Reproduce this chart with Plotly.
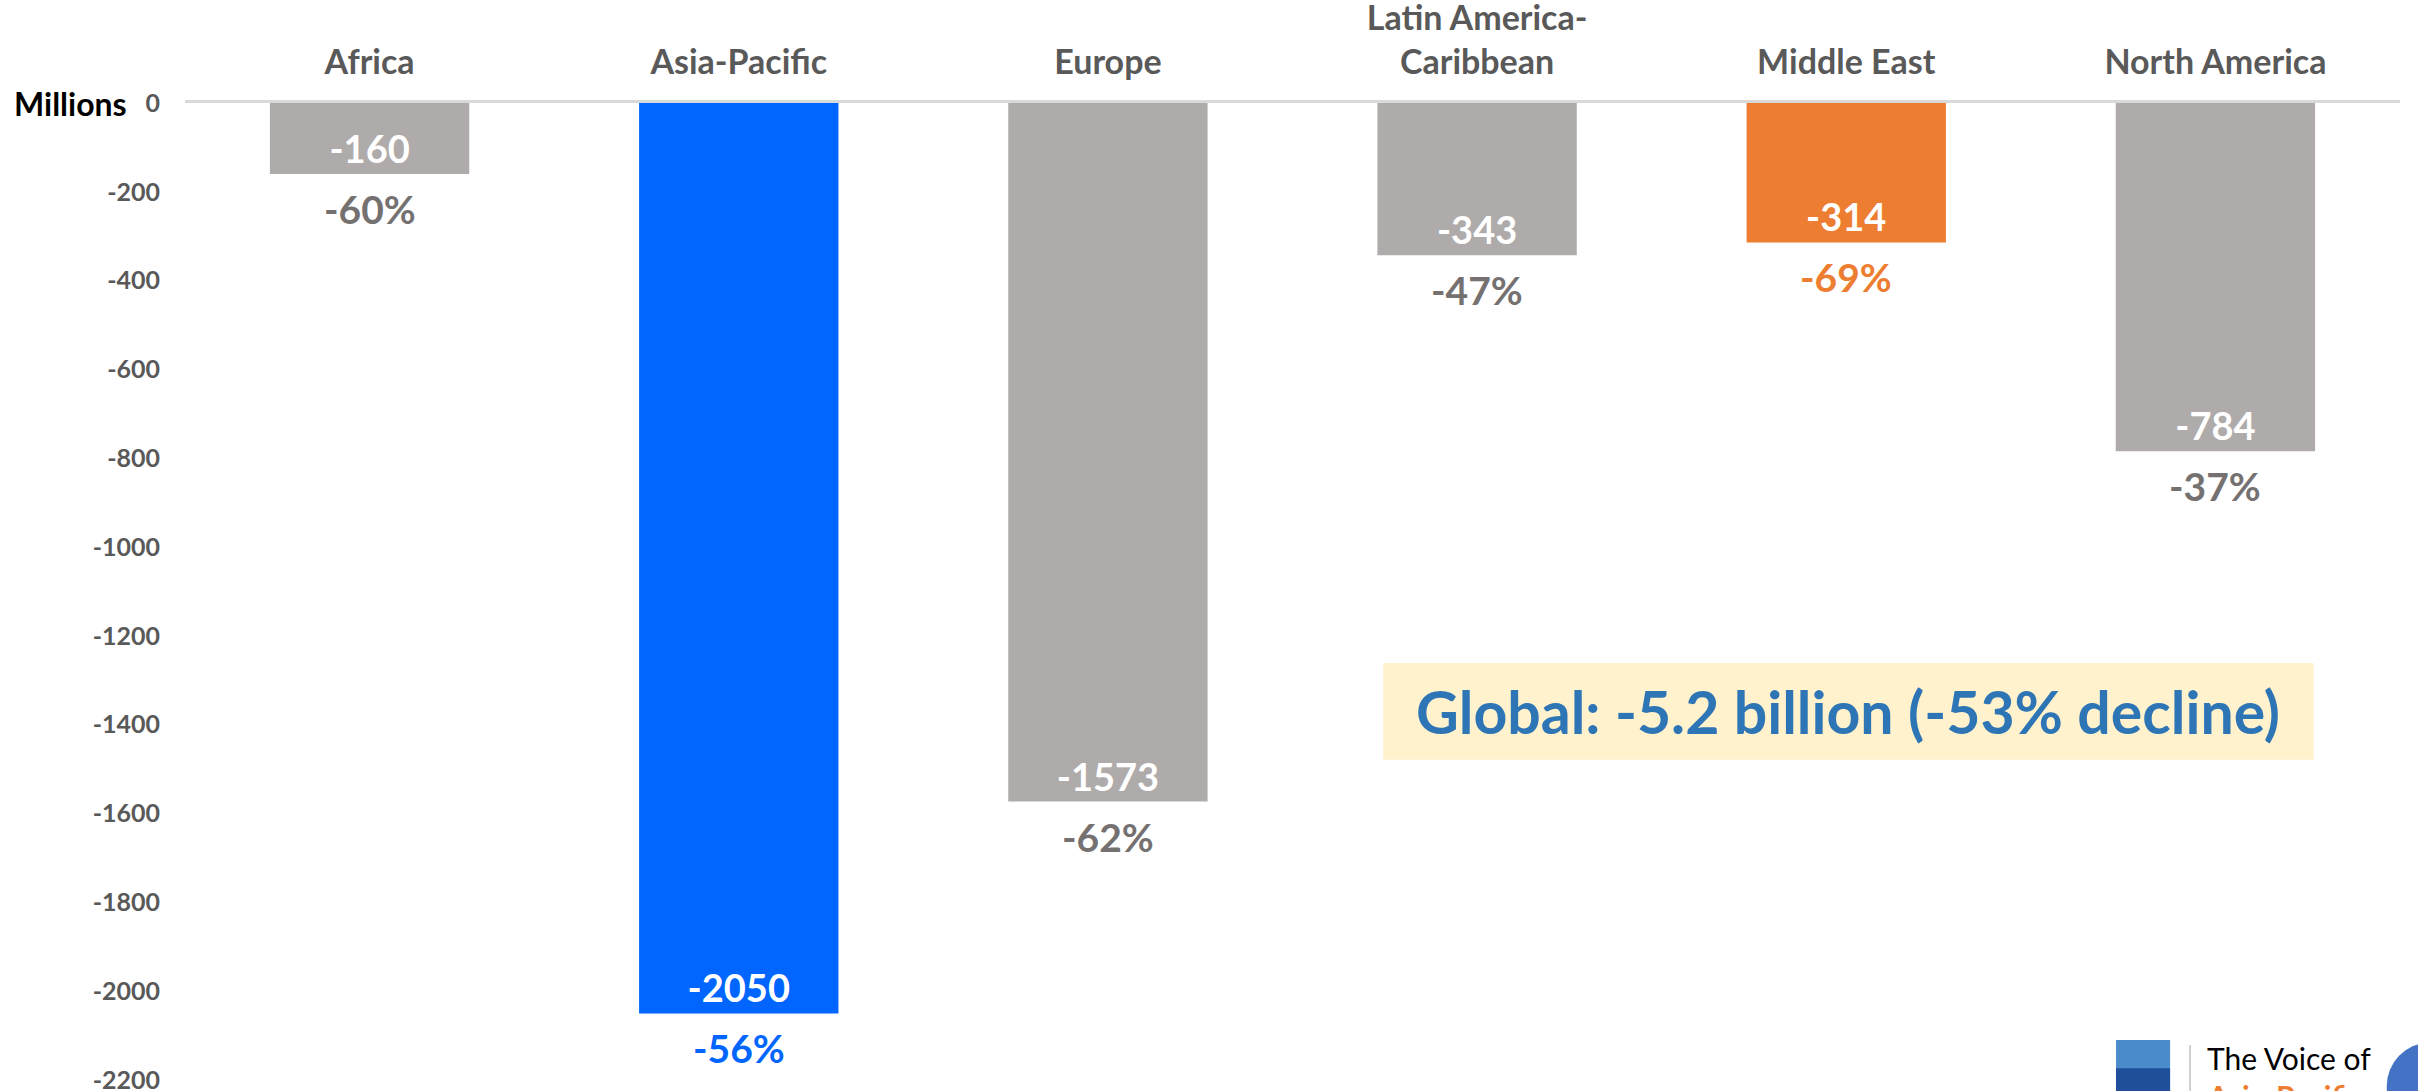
import plotly.graph_objects as go

# data (change in millions, 2019 -> 2020)
regions = ["Africa", "Asia-Pacific", "Europe", "Latin America-<br>Caribbean", "Middle East", "North America"]
change = [-160, -2050, -1573, -343, -314, -784]
pct_labels = ["-60%", "-56%", "-62%", "-47%", "-69%", "-37%"]
bar_colors = ["#AFABAB", "#0066FF", "#AFABAB", "#AFABAB", "#ED7D31", "#AFABAB"]
pct_colors = ["#767171", "#0066FF", "#767171", "#767171", "#ED7D31", "#767171"]
y_ticks = list(range(0, -2201, -200))
y_ticktext = [str(v) for v in y_ticks]

FONT = "Lato"

fig = go.Figure()

fig.add_trace(go.Bar(
    x=regions,
    y=change,
    marker=dict(color=bar_colors, line=dict(width=0)),
    text=[str(v) for v in change],
    textposition="inside",
    insidetextanchor="end",
    textangle=0,
    constraintext="none",
    insidetextfont=dict(family=FONT, size=38, color="white", weight="bold"),
    hoverinfo="skip",
))

# percentage labels under each bar
for reg, val, lab, col in zip(regions, change, pct_labels, pct_colors):
    fig.add_annotation(x=reg, y=val, yshift=-35, text=lab, showarrow=False,
                       xanchor="center", yanchor="middle",
                       font=dict(family=FONT, size=39, color=col, weight="bold"))

# global summary box
fig.add_shape(type="rect", xref="paper", yref="y", x0=0.541, x1=0.961, y0=-1479, y1=-1261,
              fillcolor="#FFF2CC", line=dict(width=0), layer="below")
fig.add_annotation(xref="paper", yref="y", x=0.751, y=-1370, xanchor="center", yanchor="middle",
                   text="Global: -5.2 billion (-53% decline)", showarrow=False,
                   font=dict(family=FONT, size=59, color="#2E75B6", weight="bold"))

# axis unit label
fig.add_annotation(xref="paper", yref="y", x=-0.078, y=0, xanchor="left", yanchor="middle",
                   text="Millions", showarrow=False,
                   font=dict(family=FONT, size=32, color="black", weight="bold"))

# logo fragment in the bottom-right corner
fig.add_shape(type="rect", xref="paper", yref="paper", x0=0.8718, x1=0.8962, y0=-0.0113, y1=0.0409,
              fillcolor="#4A8CCB", line=dict(width=0))
fig.add_shape(type="rect", xref="paper", yref="paper", x0=0.8718, x1=0.8962, y0=-0.0113, y1=0.012,
              fillcolor="#1F4E9A", line=dict(width=0))
fig.add_shape(type="line", xref="paper", yref="paper", x0=0.9052, x1=0.9052, y0=-0.0113, y1=0.0358,
              line=dict(color="#A6A6A6", width=1))
fig.add_annotation(xref="paper", yref="paper", x=0.912, y=0.0225, xanchor="left", yanchor="middle",
                   text="The Voice of", showarrow=False,
                   font=dict(family=FONT, size=30, color="black"))
fig.add_annotation(xref="paper", yref="paper", x=0.912, y=-0.016, xanchor="left", yanchor="middle",
                   text="Asia-Pacific", showarrow=False,
                   font=dict(family=FONT, size=30, color="#ED7D31", weight="bold"))
fig.add_shape(type="circle", xref="paper", yref="paper", x0=0.994, x1=1.032, y0=-0.0512, y1=0.0379,
              fillcolor="#4472C4", line=dict(width=0))

fig.update_layout(
    width=2418,
    height=1091,
    margin=dict(l=185, r=18, t=103, b=11),
    paper_bgcolor="white",
    plot_bgcolor="white",
    showlegend=False,
    bargap=0.46,
    xaxis=dict(
        side="top",
        automargin=False,
        showgrid=False,
        showline=True,
        linecolor="#D9D9D9",
        linewidth=3,
        ticks="",
        ticklabelstandoff=12,
        ticklabeloverflow="allow",
        tickfont=dict(family=FONT, size=34, color="#595959", weight="bold"),
    ),
    yaxis=dict(
        range=[-2200, 0],
        automargin=False,
        tickvals=y_ticks,
        ticktext=y_ticktext,
        showgrid=False,
        zeroline=False,
        showline=False,
        ticks="",
        ticklabelstandoff=24,
        ticklabeloverflow="allow",
        tickfont=dict(family=FONT, size=25, color="#595959", weight="bold"),
    ),
)

fig.write_html("out.html", config={"displayModeBar": False},
               post_script="document.body.style.margin='0';")
